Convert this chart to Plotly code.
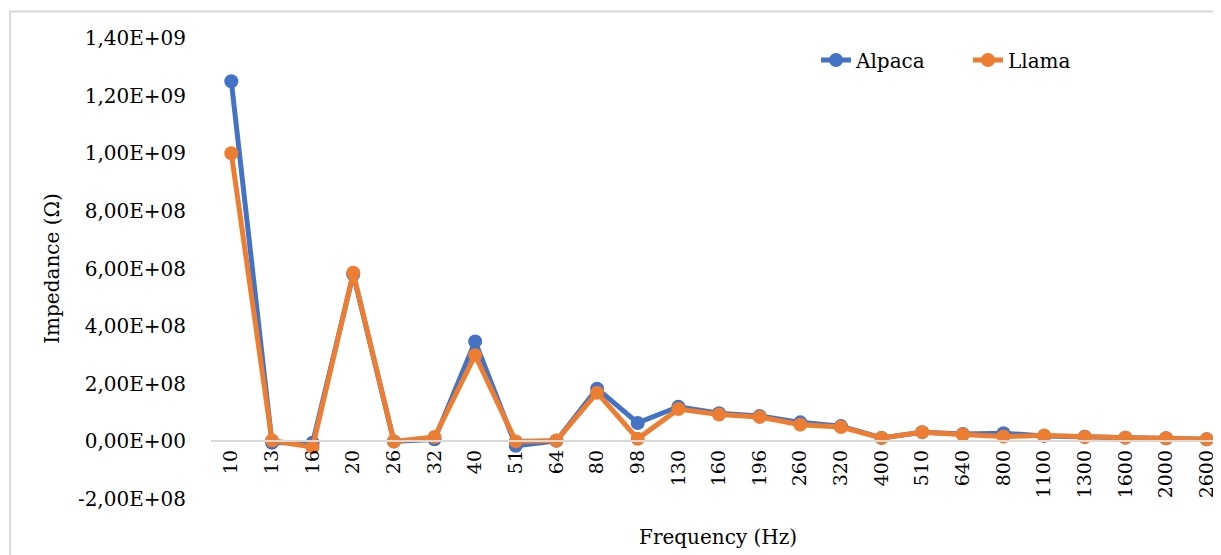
import plotly.graph_objects as go

frequencies = ["10", "13", "16", "20", "26", "32", "40", "51", "64", "80", "98", "130",
               "160", "196", "260", "320", "400", "510", "640", "800", "1100", "1300",
               "1600", "2000", "2600"]

alpaca = [1.25e9, -0.5e7, -0.5e7, 5.80e8, 0.0, 0.7e7, 3.47e8, -1.5e7, 0.2e7, 1.83e8,
          6.4e7, 1.20e8, 9.8e7, 8.8e7, 6.6e7, 5.3e7, 1.2e7, 3.2e7, 2.6e7, 2.8e7,
          1.9e7, 1.6e7, 1.3e7, 1.1e7, 0.7e7]

llama = [1.00e9, 0.3e7, -2.0e7, 5.85e8, 0.0, 1.5e7, 2.99e8, 0.0, 0.3e7, 1.69e8,
         0.9e7, 1.12e8, 9.3e7, 8.5e7, 5.8e7, 5.0e7, 1.2e7, 3.2e7, 2.4e7, 1.7e7,
         2.0e7, 1.5e7, 1.3e7, 1.1e7, 0.7e7]

y_tick_vals = [-2e8, 0, 2e8, 4e8, 6e8, 8e8, 1e9, 1.2e9, 1.4e9]
y_tick_text = ["-2,00E+08", "0,00E+00", "2,00E+08", "4,00E+08", "6,00E+08",
               "8,00E+08", "1,00E+09", "1,20E+09", "1,40E+09"]

FONT = "DejaVu Serif, Liberation Serif, serif"
BLUE = "#4472C4"
ORANGE = "#ED7D31"

fig = go.Figure()
fig.add_trace(go.Scatter(x=frequencies, y=alpaca, name="Alpaca", mode="lines+markers",
                         line=dict(color=BLUE, width=5),
                         marker=dict(color=BLUE, size=14)))
fig.add_trace(go.Scatter(x=frequencies, y=llama, name="Llama", mode="lines+markers",
                         line=dict(color=ORANGE, width=5),
                         marker=dict(color=ORANGE, size=14)))

# page body has an 8px margin, so figure coords = screen coords - 8
OFF = 8
W, H = 1221, 555
L, R, T, B = 211 - OFF, 2, 38 - OFF, 555 - (499 - OFF)
pw, ph = W - L - R, H - T - B

def px_x(p):  # screen px -> paper
    return (p - OFF - L) / pw

def px_y(p):
    return (H - B - (p - OFF)) / ph

fig.update_layout(
    width=W, height=H,
    margin=dict(l=L, r=R, t=T, b=B),
    paper_bgcolor="white", plot_bgcolor="white",
    font=dict(family=FONT, size=20, color="black"),
    showlegend=True,
    legend=dict(orientation="h", x=px_x(816), y=px_y(60), xanchor="left", yanchor="middle",
                entrywidth=107, entrywidthmode="pixels",
                font=dict(family=FONT, size=20, color="black"), bgcolor="rgba(0,0,0,0)"),
    xaxis=dict(type="category", range=[-0.5, 24.5], anchor="free", position=0.125,
               showline=True, linecolor="#d9d9d9", linewidth=2, showgrid=False,
               ticks="", tickangle=-90, zeroline=False,
               tickfont=dict(family=FONT, size=19, color="black")),
    yaxis=dict(range=[-2e8, 1.4e9], tickvals=y_tick_vals, ticktext=y_tick_text,
               showgrid=False, zeroline=False, showline=False, ticks="",
               ticklabelstandoff=24,
               tickfont=dict(family=FONT, size=20, color="black"),
               title=dict(text="Impedance (\u03a9)", font=dict(family=FONT, size=20, color="black"),
                          standoff=12)),
    annotations=[dict(text="Frequency (Hz)", xref="paper", yref="paper",
                      x=px_x(718), y=px_y(537), xanchor="center", yanchor="middle",
                      showarrow=False, font=dict(family=FONT, size=20, color="black"))],
    shapes=[dict(type="rect", xref="paper", yref="paper",
                 x0=px_x(10), x1=px_x(1300), y0=px_y(620), y1=px_y(11.5),
                 line=dict(color="#d9d9d9", width=2), layer="below")],
)

fig.write_html("out.html")
